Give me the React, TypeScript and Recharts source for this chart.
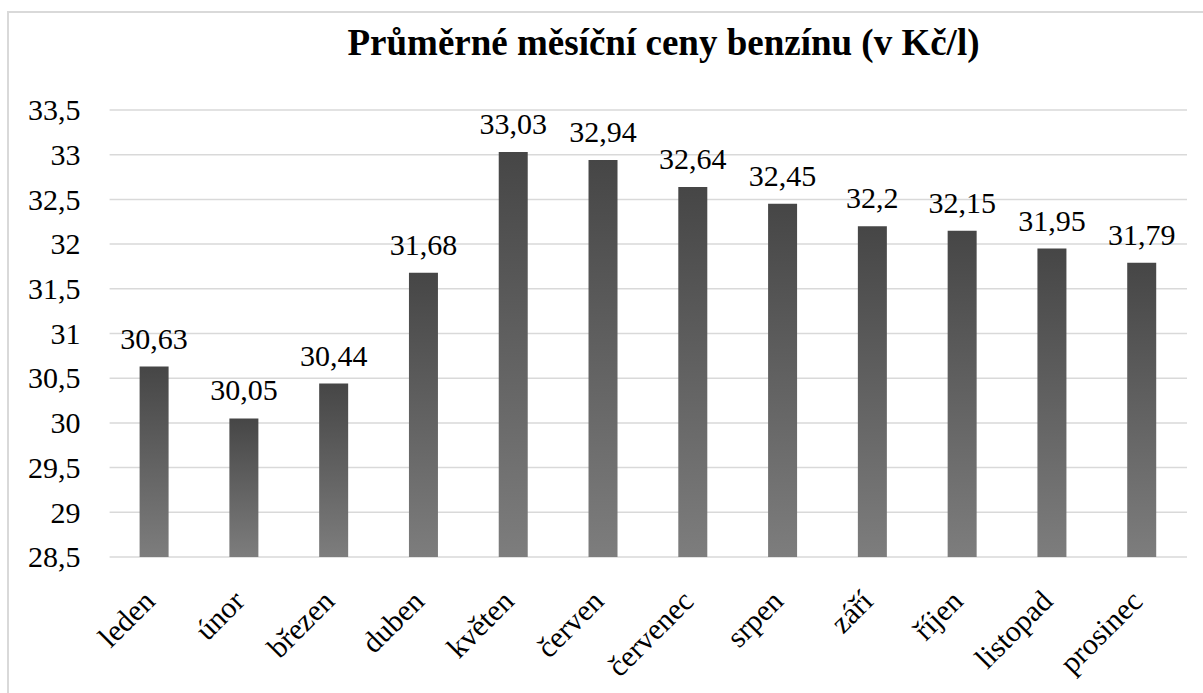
import React from "react";
import { BarChart, Bar, XAxis, YAxis, CartesianGrid, LabelList } from "recharts";

// průměrné ceny benzínu po měsících (Kč/l)
const months = [
  "leden",
  "únor",
  "březen",
  "duben",
  "květen",
  "červen",
  "červenec",
  "srpen",
  "září",
  "říjen",
  "listopad",
  "prosinec",
];
const prices = [30.63, 30.05, 30.44, 31.68, 33.03, 32.94, 32.64, 32.45, 32.2, 32.15, 31.95, 31.79];
const yTicks = [28.5, 29, 29.5, 30, 30.5, 31, 31.5, 32, 32.5, 33, 33.5];

const chartData = months.map((month, i) => ({ month, price: prices[i] }));

const FONT = "'Liberation Serif', 'Times New Roman', serif";
const czNum = (v: number | string) => String(v).replace(".", ",");

const textStyle: React.CSSProperties = { fontFamily: FONT, fontSize: 30, fill: "#000" };

const MonthTick = (props: any) => {
  const { x, y, payload } = props;
  const tx = x + 2;
  const ty = y + 46;
  return (
    <text x={tx} y={ty} transform={`rotate(-45, ${tx}, ${ty})`} textAnchor="end" style={textStyle}>
      {payload.value}
    </text>
  );
};

const PriceTick = (props: any) => {
  const { x, y, payload } = props;
  return (
    <text x={x} y={y} dy="0.34em" textAnchor="end" style={textStyle}>
      {czNum(payload.value)}
    </text>
  );
};

const ValueLabel = (props: any) => {
  const { x, y, width, value } = props;
  return (
    <text x={x + width / 2} y={y - 18} textAnchor="middle" style={textStyle}>
      {czNum(value)}
    </text>
  );
};

const App: React.FC = () => {
  return (
    <div
      style={{
        position: "absolute",
        left: 0,
        top: 0,
        width: 1203,
        height: 693,
        background: "#fff",
        overflow: "hidden",
        fontFamily: FONT,
      }}
    >
      {/* rámeček grafu */}
      <div
        style={{
          position: "absolute",
          left: 7,
          top: 11,
          width: 1220,
          height: 720,
          border: "2px solid #d9d9d9",
        }}
      />
      <div
        style={{
          position: "absolute",
          left: 0,
          top: 24,
          width: 1327,
          textAlign: "center",
          fontWeight: "bold",
          fontSize: 37,
          lineHeight: "37px",
          color: "#000",
        }}
      >
        Průměrné měsíční ceny benzínu (v Kč/l)
      </div>
      <div style={{ position: "absolute", left: 0, top: 0 }}>
        <BarChart
          width={1203}
          height={693}
          data={chartData}
          margin={{ top: 110, right: 16, left: 0, bottom: 0 }}
        >
          <defs>
            <linearGradient id="barGrad" x1="0" y1="0" x2="0" y2="1">
              <stop offset="0%" stopColor="#464646" />
              <stop offset="100%" stopColor="#7d7d7d" />
            </linearGradient>
          </defs>
          <CartesianGrid stroke="#d9d9d9" strokeWidth={1.5} vertical={false} />
          <XAxis
            dataKey="month"
            height={136}
            tick={<MonthTick />}
            tickLine={false}
            axisLine={false}
            tickSize={0}
            tickMargin={0}
            interval={0}
          />
          <YAxis
            width={109.6}
            domain={[28.5, 33.5]}
            ticks={yTicks}
            tick={<PriceTick />}
            tickLine={false}
            axisLine={false}
            tickSize={0}
            tickMargin={29}
            allowDataOverflow
          />
          <Bar dataKey="price" fill="url(#barGrad)" barSize={29} isAnimationActive={false}>
            <LabelList dataKey="price" content={<ValueLabel />} />
          </Bar>
        </BarChart>
      </div>
    </div>
  );
};

export default App;
